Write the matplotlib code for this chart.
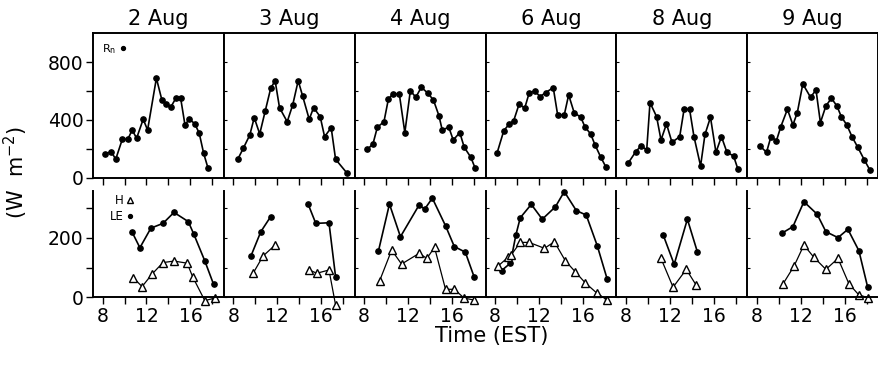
import numpy as np
import matplotlib.pyplot as plt
from matplotlib.lines import Line2D

plt.rcParams['font.family'] = ['DejaVu Sans']
plt.rcParams['mathtext.default'] = 'regular'

days = ['2 Aug', '3 Aug', '4 Aug', '6 Aug', '8 Aug', '9 Aug']

# net radiation (top row)
rn_hours = [
    [8.2, 8.8, 9.2, 9.8, 10.3, 10.7, 11.1, 11.7, 12.1, 12.9, 13.4, 13.8, 14.2, 14.7, 15.1, 15.5, 15.9, 16.4, 16.8, 17.2, 17.6],
    [8.4, 8.9, 9.5, 9.9, 10.4, 10.9, 11.4, 11.8, 12.2, 12.9, 13.4, 13.9, 14.3, 14.9, 15.3, 15.9, 16.3, 16.9, 17.3, 18.3],
    [8.3, 8.8, 9.2, 9.8, 10.2, 10.6, 11.2, 11.7, 12.2, 12.7, 13.2, 13.8, 14.3, 14.8, 15.1, 15.7, 16.1, 16.7, 17.1, 17.7, 18.1],
    [8.2, 8.8, 9.3, 9.7, 10.2, 10.7, 11.1, 11.6, 12.1, 12.6, 13.3, 13.7, 14.3, 14.7, 15.2, 15.8, 16.2, 16.7, 17.1, 17.6, 18.1],
    [8.2, 8.9, 9.4, 9.9, 10.2, 10.8, 11.2, 11.7, 12.2, 12.9, 13.3, 13.8, 14.2, 14.8, 15.2, 15.7, 16.2, 16.7, 17.2, 17.8, 18.2],
    [8.3, 8.9, 9.3, 9.8, 10.2, 10.8, 11.3, 11.7, 12.2, 12.9, 13.4, 13.8, 14.3, 14.8, 15.3, 15.7, 16.2, 16.7, 17.2, 17.8, 18.3],
]
rn_values = [
    [166, 181, 129, 267, 267, 331, 274, 405, 331, 688, 538, 511, 488, 554, 554, 366, 407, 373, 308, 170, 67],
    [129, 204, 297, 416, 304, 462, 619, 671, 485, 388, 504, 671, 566, 405, 485, 423, 285, 347, 129, 37],
    [198, 235, 350, 388, 543, 580, 578, 313, 602, 557, 626, 584, 538, 430, 331, 350, 262, 313, 212, 143, 67],
    [175, 326, 373, 395, 511, 481, 584, 602, 561, 589, 623, 435, 435, 573, 451, 419, 350, 304, 228, 147, 74],
    [101, 181, 223, 193, 520, 423, 262, 373, 246, 285, 474, 474, 285, 83, 300, 419, 177, 285, 177, 152, 60],
    [221, 177, 285, 257, 354, 474, 366, 451, 649, 557, 607, 382, 497, 550, 497, 423, 366, 281, 212, 124, 55],
]

# latent heat flux (bottom row, dots)
le_hours = [
    [10.7, 11.4, 12.4, 13.5, 14.5, 15.8, 16.3, 17.3, 18.1],
    [9.6, 10.5, 11.4, None, 14.8, 15.5, 16.7, 17.3],
    [9.3, 10.3, 11.3, 13.0, 13.5, 14.2, 15.4, 16.2, 17.2, 18.0],
    [8.6, 9.4, 9.9, 10.3, 11.3, 12.3, 13.5, 14.3, 15.4, 16.3, 17.3, 18.2],
    [11.4, 12.4, 13.6, 14.5],
    [10.3, 11.3, 12.3, 13.5, 14.3, 15.4, 16.3, 17.3, 18.1],
]
le_values = [
    [219, 167, 233, 249, 286, 255, 213, 123, 44],
    [139, 221, 272, None, 314, 249, 251, 69],
    [156, 314, 204, 311, 297, 334, 241, 171, 152, 69],
    [90, 115, 210, 268, 313, 263, 305, 356, 292, 277, 174, 62],
    [210, 111, 263, 154],
    [216, 238, 322, 280, 221, 201, 229, 157, 34],
]

# sensible heat flux (bottom row, triangles)
h_hours = [
    [10.8, 11.6, 12.5, 13.5, 14.5, 15.7, 16.2, 17.3, 18.2],
    [9.8, 10.7, 11.8, None, 14.9, 15.6, 16.7, 17.3],
    [9.4, 10.5, 11.4, 13.0, 13.7, 14.4, 15.4, 16.2, 17.1, 18.0],
    [8.3, 9.2, 9.5, 10.3, 11.1, 12.5, 13.4, 14.4, 15.3, 16.2, 17.3, 18.2],
    [11.2, 12.3, 13.5, 14.4],
    [10.4, 11.4, 12.3, 13.2, 14.3, 15.4, 16.4, 17.3, 18.1],
]
h_values = [
    [66, 36, 78, 117, 122, 115, 69, -11, -3],
    [81, 139, 176, None, 92, 81, 92, -26],
    [55, 159, 112, 148, 131, 168, 27, 27, -3, -9],
    [106, 135, 144, 185, 185, 165, 187, 123, 86, 49, 13, -9],
    [131, 34, 94, 41],
    [45, 105, 176, 135, 94, 131, 45, 8, -1],
]

fig = plt.figure(figsize=(8.79, 3.66), dpi=100)
left, right = 0.106, 0.999
w = (right - left) / 6
xlim = (7.15, 19.05)
xt = [8, 10, 12, 14, 16, 18]
xtl = ['8', '', '12', '', '16', '']

for i in range(6):
    ax = fig.add_axes([left + i * w, 0.5137, w, 0.3961])
    ax.plot(np.array(rn_hours[i], dtype=float), np.array(rn_values[i], dtype=float),
            '-o', color='k', ms=3.8, lw=1.2, clip_on=False)
    ax.set_xlim(*xlim)
    ax.set_ylim(0, 1000)
    ax.set_xticks(xt)
    ax.set_xticklabels([])
    ax.set_yticks([0, 200, 400, 600, 800])
    for s in ax.spines.values():
        s.set_linewidth(1.4)
    ax.tick_params(axis='x', direction='out', length=5, width=1)
    if i == 0:
        ax.set_yticklabels(['0', '', '400', '', '800'])
        ax.tick_params(axis='y', direction='out', length=5, width=1, labelsize=13.5, pad=2)
        ax.legend([Line2D([], [], marker='o', ls='none', color='k', ms=2.8)], ['R$_n$'],
                  loc='upper left', markerfirst=False, frameon=False, fontsize=8,
                  handlelength=0.6, handletextpad=0.3, borderaxespad=0.4)
    else:
        ax.set_yticklabels([])
        ax.tick_params(axis='y', direction='in', length=2.5, width=0.8)
    ax.set_title(days[i], fontsize=15, pad=6)

    axb = fig.add_axes([left + i * w, 0.1877, w, 0.2904])
    axb.plot(np.array(le_hours[i], dtype=float), np.array(le_values[i], dtype=float),
             '-o', color='k', ms=3.8, lw=1.2, clip_on=False)
    axb.plot(np.array(h_hours[i], dtype=float), np.array(h_values[i], dtype=float),
             '-^', color='k', mfc='white', mec='k', ms=5.5, lw=0.9, clip_on=False)
    axb.set_xlim(*xlim)
    axb.set_ylim(0, 358)
    axb.spines['top'].set_visible(False)
    axb.spines['right'].set_visible(False)
    axb.spines['left'].set_linewidth(1.4)
    axb.spines['bottom'].set_linewidth(1.4)
    axb.set_xticks(xt)
    axb.set_xticklabels(xtl)
    axb.tick_params(axis='x', direction='out', length=5, width=1, labelsize=13.5, pad=2)
    axb.set_yticks([0, 100, 200, 300])
    if i == 0:
        axb.set_yticklabels(['0', '', '200', ''])
        axb.tick_params(axis='y', direction='out', length=5, width=1, labelsize=13.5, pad=2)
        axb.legend([Line2D([], [], marker='^', ls='none', color='k', mfc='white', ms=4),
                    Line2D([], [], marker='o', ls='none', color='k', ms=2.8)],
                   ['H', 'LE'], loc='upper left', markerfirst=False, frameon=False,
                   fontsize=8.5, handlelength=0.6, handletextpad=0.3, labelspacing=0.25,
                   borderaxespad=0.2, bbox_to_anchor=(0.07, 1.04))
    else:
        axb.set_yticklabels([])
        axb.tick_params(axis='y', direction='in', length=2.5, width=0.8)

fig.text(0.018, 0.53, '(W  m$^{-2}$)', rotation=90, fontsize=15, ha='center', va='center')
fig.text(0.559, 0.082, 'Time (EST)', fontsize=15, ha='center', va='center')

fig.savefig('out.png', dpi=100)
